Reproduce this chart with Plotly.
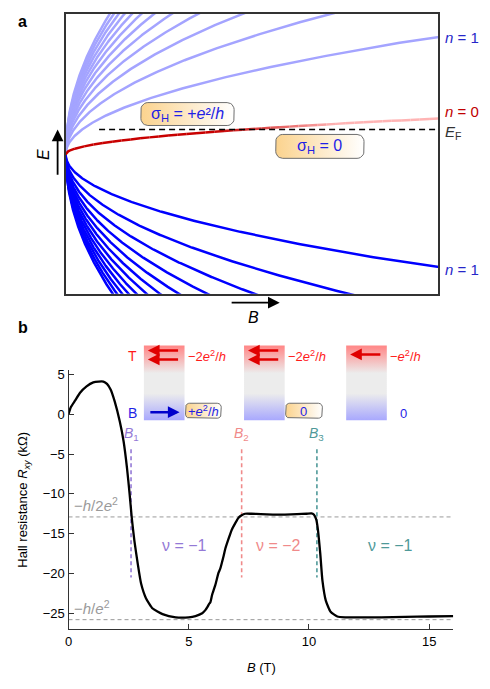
import numpy as np
import plotly.graph_objects as go

# the page body adds an 8 px margin, so the figure is drawn 8 px smaller
# and all positions below are given in window pixels
OX, OY = 8, 8
W, H = 474, 673
FONT = 'Arial, Liberation Sans, sans-serif'

# ---- panel a : schematic Landau levels ----
levels_up = [1, 2, 3, 4, 5, 6, 7, 8, 9, 10, 11, 12]
levels_down = [1, 2, 3, 4, 5, 6, 7, 8, 9, 10, 11, 12]
scale_up = 1.02
scale_down = 0.98
n0_scale = 0.31
e_fermi = 0.215
ef_from = 0.09

# ---- panel b : Hall resistance ----
b_field = [0, 0.1, 0.27, 0.48, 0.75, 1.03, 1.25, 1.45, 1.6, 1.75, 1.92, 2.13, 2.29, 2.43,
           2.54, 2.63, 2.74, 2.88, 3.02, 3.22, 3.5, 3.91, 4.46, 5.0, 5.28, 5.56, 5.69,
           5.78, 5.85, 5.9, 5.97, 6.1, 6.24, 6.31, 6.45, 6.52, 6.65, 6.79, 6.93, 7.07,
           7.2, 7.34, 7.6, 8.0, 8.5, 9.0, 9.5, 9.9, 10.1, 10.2, 10.3, 10.36, 10.47,
           10.56, 10.7, 10.9, 11.18, 11.5, 12, 13, 14, 15, 16]
r_xy = [0, 0.9, 1.7, 2.7, 3.5, 4.0, 4.1, 4.1, 3.8, 3.1, 1.6, -0.9, -3.4, -6.7,
        -10.0, -13.0, -15.9, -18.8, -21.3, -23.1, -24.4, -25.1, -25.5, -25.5, -25.35, -25.0, -24.6,
        -24.2, -23.8, -23.6, -22.7, -21.5, -19.9, -19.4, -17.8, -16.9, -15.7, -14.5, -13.7, -13.0,
        -12.7, -12.5, -12.5, -12.55, -12.6, -12.6, -12.55, -12.5, -12.45, -12.6, -13.2, -14.2, -17.5,
        -20.9, -23.4, -24.8, -25.4, -25.5, -25.5, -25.5, -25.45, -25.4, -25.35]
b_marks = [2.6, 7.2, 10.33]
b_mark_names = ['<i>B</i><sub>1</sub>', '<i>B</i><sub>2</sub>', '<i>B</i><sub>3</sub>']
b_mark_colors = ['#9479d6', '#f08a8a', '#4f9999']
mark_span = [-4.4, -20.5]
plateaus = [-12.9, -25.8]
plateau_names = ['\u2212<i>h</i>/2<i>e</i><sup>2</sup>', '\u2212<i>h</i>/<i>e</i><sup>2</sup>']
nu_pos = [4.82, 8.74, 13.4]
nu_names = ['\u03bd = \u22121', '\u03bd = \u22122', '\u03bd = \u22121']
y_ticks = [-25, -20, -15, -10, -5, 0, 5]
x_ticks = [0, 5, 10, 15]


def px(x):
    return (x - OX) / W


def py(y):
    return 1 - (y - OY) / H


fig = go.Figure()

# panel a curves
t = np.linspace(0, 1, 300)
for n in levels_up:
    bb = (t * 1.25 / (scale_up * np.sqrt(n))) ** 2
    fig.add_trace(go.Scatter(x=bb, y=scale_up * np.sqrt(n * bb), mode='lines',
                             line=dict(color='#a4a4ff', width=2.5), xaxis='x', yaxis='y'))
for n in levels_down:
    bb = (t * 1.25 / (scale_down * np.sqrt(n))) ** 2
    fig.add_trace(go.Scatter(x=bb, y=-scale_down * np.sqrt(n * bb), mode='lines',
                             line=dict(color='#0000ff', width=2.5), xaxis='x', yaxis='y'))

# n = 0 level, dark below E_F, fading to pink above
dark = np.array([200, 0, 0])
pink = np.array([255, 180, 180])
edges = np.linspace(0, 1, 41)
for b0, b1 in zip(edges[:-1], edges[1:]):
    f = np.clip((0.5 * (b0 + b1) - 0.4) / 0.32, 0, 1)
    c = (dark + (pink - dark) * f).astype(int)
    seg = np.linspace(b0, b1, 8)
    fig.add_trace(go.Scatter(x=seg, y=n0_scale * np.sqrt(seg), mode='lines',
                             line=dict(color='rgb(%d,%d,%d)' % tuple(c), width=2.5),
                             xaxis='x', yaxis='y'))
fig.add_trace(go.Scatter(x=[ef_from, 1], y=[e_fermi, e_fermi], mode='lines',
                         line=dict(color='black', width=1.6, dash='6px,4px'), xaxis='x', yaxis='y'))

# panel b
for p in plateaus:
    fig.add_trace(go.Scatter(x=[0, 16], y=[p, p], mode='lines',
                             line=dict(color='#9a9a9a', width=1, dash='4px,3px'),
                             xaxis='x2', yaxis='y2'))
for bm, col in zip(b_marks, b_mark_colors):
    fig.add_trace(go.Scatter(x=[bm, bm], y=mark_span, mode='lines',
                             line=dict(color=col, width=1.6, dash='4px,3px'), xaxis='x2', yaxis='y2'))
fig.add_trace(go.Scatter(x=b_field, y=r_xy, mode='lines',
                         line=dict(color='black', width=2.3, shape='spline', smoothing=0.5),
                         xaxis='x2', yaxis='y2'))


# overlay decorations, window pixel coordinates
def rounded(x0, y0, x1, y1, r):
    xs, ys = [], []
    for cx, cy, a0, a1 in [(x1 - r, y0 + r, -90, 0), (x1 - r, y1 - r, 0, 90),
                           (x0 + r, y1 - r, 90, 180), (x0 + r, y0 + r, 180, 270)]:
        for a in np.radians(np.linspace(a0, a1, 7)):
            xs.append(cx + r * np.cos(a))
            ys.append(cy + r * np.sin(a))
    return xs + xs[:1], ys + ys[:1]


def label_box(x0, y0, x1, y1, r):
    xs, ys = rounded(x0, y0, x1, y1, r)
    fig.add_trace(go.Scatter(x=xs, y=ys, mode='lines', fill='toself',
                             fillgradient=dict(type='horizontal',
                                               colorscale=[[0, '#fbd38e'], [1, '#ffffff']]),
                             line=dict(color='#6e6e6e', width=1), xaxis='x3', yaxis='y3'))


label_box(138, 100, 232, 123, 7)
label_box(274, 132, 363, 156, 7)

for x0 in [141, 242, 345]:
    fig.add_trace(go.Scatter(x=[x0, x0 + 41, x0 + 41, x0, x0], y=[344, 344, 419, 419, 344],
                             mode='lines', fill='toself', line=dict(width=0),
                             fillgradient=dict(type='vertical', start=344, stop=419,
                                               colorscale=[[0, '#ff8a8a'], [0.35, '#ececec'],
                                                           [0.62, '#ececec'], [1, '#a4a4ff']]),
                             xaxis='x3', yaxis='y3'))
label_box(183, 402, 219, 417, 4)
label_box(284, 402, 321, 417, 4)

ann = []


def text(x, y, s, size=13, color='black', xanchor='center', angle=0):
    ann.append(dict(x=x, y=y, xref='x3', yref='y3', text=s, showarrow=False, textangle=angle,
                    xanchor=xanchor, yanchor='middle', font=dict(family=FONT, size=size, color=color)))


def arrow(x, y, ax, ay, color, width, size=1.0):
    ann.append(dict(x=x, y=y, ax=ax, ay=ay, xref='x3', yref='y3', axref='x3', ayref='y3',
                    text='', showarrow=True, arrowhead=2, arrowsize=size, arrowwidth=width,
                    arrowcolor=color))


text(19, 19, '<b>a</b>', 16)
text(19, 326, '<b>b</b>', 16)
arrow(54, 127, 54, 174, 'black', 1.8, 1.3)
text(40, 152, '<i>E</i>', 16, angle=-90)
arrow(278, 301, 228, 301, 'black', 1.8, 1.3)
text(252, 316, '<i>B</i>', 16)
text(443, 35, '<i>n</i> = 1', 15, '#2626c9', 'left')
text(443, 109, '<i>n</i> = 0', 15, '#c00000', 'left')
text(443, 130, '<i>E</i><sub>F</sub>', 15, '#333333', 'left')
text(443, 268, '<i>n</i> = 1', 15, '#2626c9', 'left')
text(185, 112, '\u03c3<sub>H</sub> = +<i>e</i>\u00b2/<i>h</i>', 16, '#1f1fe6')
text(318, 144, '\u03c3<sub>H</sub> = 0', 16, '#1f1fe6')

# insets
text(130, 355, 'T', 14, '#ff1a1a')
text(130, 412, 'B', 14, '#1f1fe6')
for x0 in [141, 242]:
    arrow(x0 + 4, 349, x0 + 36, 349, '#e00000', 2.6, 0.9)
    arrow(x0 + 4, 358, x0 + 36, 358, '#e00000', 2.6, 0.9)
    text(x0 + 42, 355, '\u22122<i>e</i><sup>2</sup>/<i>h</i>', 13, '#ff1a1a', 'left')
arrow(349, 353, 381, 353, '#e00000', 2.6, 0.9)
text(387, 355, '\u2212<i>e</i><sup>2</sup>/<i>h</i>', 13, '#ff1a1a', 'left')
arrow(177, 411, 146, 411, '#0000cc', 2.6, 0.9)
text(201, 410, '+<i>e</i><sup>2</sup>/<i>h</i>', 13, '#1f1fe6')
text(302, 410, '0', 13, '#1f1fe6')
text(403, 412, '0', 13, '#1f1fe6')

# panel b labels (data coordinates)
for bm, nm, col in zip(b_marks, b_mark_names, b_mark_colors):
    ann.append(dict(x=bm, y=-2.5, xref='x2', yref='y2', text=nm, showarrow=False,
                    font=dict(family=FONT, size=14, color=col)))
for p, nm in zip(plateaus, plateau_names):
    ann.append(dict(x=0.15, y=p + 1.5, xref='x2', yref='y2', text=nm, showarrow=False,
                    xanchor='left', font=dict(family=FONT, size=15, color='#9a9a9a')))
for xp, nm, col in zip(nu_pos, nu_names, b_mark_colors):
    ann.append(dict(x=xp, y=-16.5, xref='x2', yref='y2', text=nm, showarrow=False,
                    font=dict(family=FONT, size=16, color=col)))
text(20, 499, 'Hall resistance <i>R</i><sub><i>xy</i></sub> (k\u03a9)', 13, angle=-90)
text(260, 667, '<i>B</i> (T)', 13)

fig.update_layout(
    width=W, height=H, margin=dict(l=0, r=0, t=0, b=0),
    paper_bgcolor='white', plot_bgcolor='rgba(0,0,0,0)', showlegend=False,
    annotations=ann, font=dict(family=FONT, size=13, color='black'),
    xaxis=dict(domain=[px(62), px(438)], range=[0, 1], showline=True, mirror=True,
               linecolor='#333333', linewidth=1.5, showticklabels=False, ticks='',
               showgrid=False, zeroline=False),
    yaxis=dict(domain=[py(292), py(11)], range=[-140 / 116, 141 / 116],
               showline=True, mirror=True, linecolor='#333333', linewidth=1.5,
               showticklabels=False, ticks='', showgrid=False, zeroline=False),
    xaxis2=dict(domain=[px(65), px(453)], range=[0, 16], anchor='y2', showline=True,
                linecolor='#333333', linewidth=1.2, ticks='inside', ticklen=5,
                tickcolor='#333333', tickvals=x_ticks, showgrid=False, zeroline=False,
                tickfont=dict(size=13)),
    yaxis2=dict(domain=[py(629), py(369)], range=[-27, 5.5], anchor='x2',
                showline=True, linecolor='#333333', linewidth=1.2, ticks='inside',
                ticklen=5, tickcolor='#333333', tickvals=y_ticks,
                ticktext=[str(v).replace('-', '\u2212') for v in y_ticks],
                showgrid=False, zeroline=False, tickfont=dict(size=13)),
    xaxis3=dict(domain=[0, 1], range=[OX, OX + W], anchor='y3', visible=False),
    yaxis3=dict(domain=[0, 1], range=[OY + H, OY], anchor='x3', visible=False),
)

fig.write_html("out.html")
